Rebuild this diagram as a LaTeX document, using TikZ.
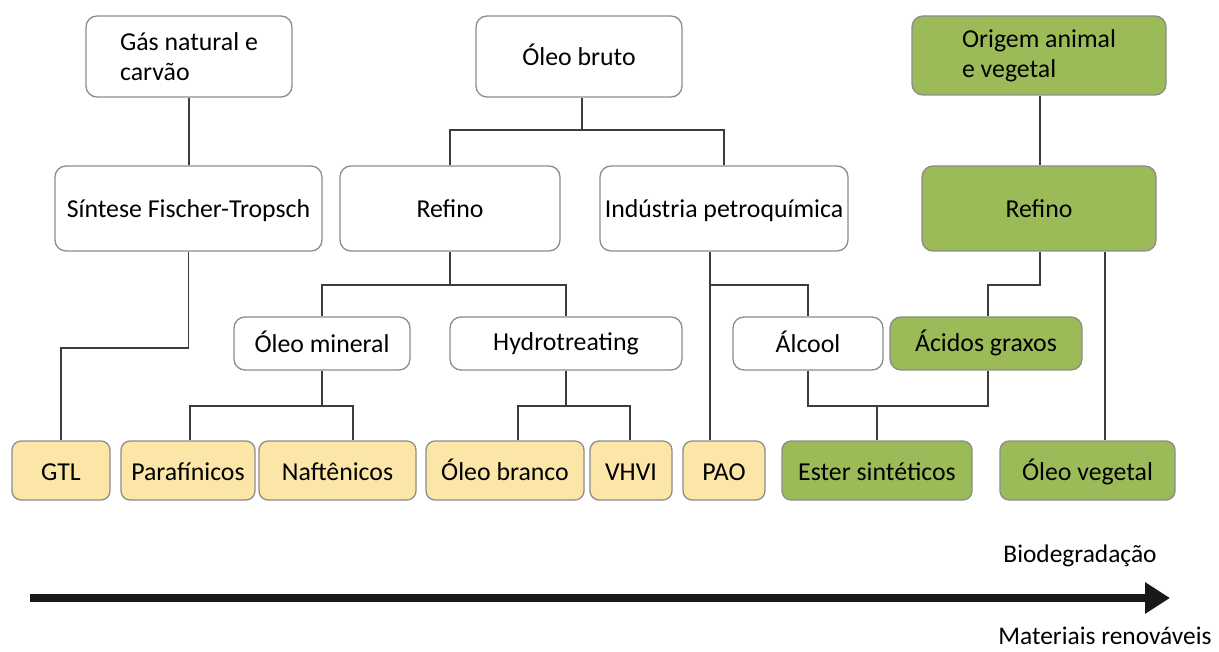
\documentclass[tikz,border=0pt]{standalone}
\usepackage{fontspec}
\setmainfont{Carlito}
\usetikzlibrary{arrows.meta}
\tikzset{
  box/.style={draw=boxgray, line width=1.3pt, rounded corners=11pt, fill=white, inner sep=0pt, align=center, font=\fontsize{25.8}{30}\selectfont},
  oneline/.style={text height=20pt, text depth=1pt},
  oil/.style={box, oneline, fill=oilyellow, rounded corners=9pt, minimum height=59pt},
  bio/.style={box, fill=biogreen},
  link/.style={draw=linkgray, line width=1.4pt},
  caption/.style={inner sep=0pt, font=\fontsize{25.4}{30}\selectfont}
}

\begin{document}
\begin{tikzpicture}[x=1pt,y=-1pt]
    \definecolor{boxgray}{RGB}{140, 140, 140}
    \definecolor{linkgray}{RGB}{60, 60, 60}
    \definecolor{oilyellow}{RGB}{251, 230, 168}
    \definecolor{biogreen}{RGB}{155, 187, 89}

    \useasboundingbox (0,0) rectangle (1219,652);

    \node[box, minimum width=206pt, minimum height=81pt, align=left] (gas) at (189,56.5) {Gás natural e\\carvão};
    \node[box, oneline, minimum width=206pt, minimum height=81pt] (bruto) at (579,56.5) {Óleo bruto};
    \node[bio, minimum width=254pt, minimum height=79pt, align=left] (origem) at (1039,55.5) {Origem animal\\e vegetal};

    \node[box, oneline, minimum width=267pt, minimum height=85pt] (ft) at (188.5,208.5) {Síntese Fischer-Tropsch};
    \node[box, oneline, minimum width=220pt, minimum height=85pt] (refino) at (450,208.5) {Refino};
    \node[box, oneline, minimum width=248pt, minimum height=85pt] (petro) at (724,208.5) {Indústria petroquímica};
    \node[bio, oneline, minimum width=234pt, minimum height=85pt] (grefino) at (1039,208.5) {Refino};

    \node[box, oneline, minimum width=176pt, minimum height=53pt] (mineral) at (322,343.5) {Óleo mineral};
    \node[box, oneline, text depth=5pt, minimum width=232pt, minimum height=53pt] (hydro) at (566,343.5) {Hydrotreating};
    \node[box, oneline, minimum width=150pt, minimum height=53pt] (alcool) at (808,343.5) {Álcool};
    \node[bio, oneline, text depth=4pt, minimum width=192pt, minimum height=53pt] (acidos) at (986,343.5) {Ácidos graxos};

    \node[oil, minimum width=98pt] (gtl) at (61,470.5) {GTL};
    \node[oil, minimum width=134pt] (paraf) at (188,470.5) {Parafínicos};
    \node[oil, minimum width=157pt] (naft) at (337.5,470.5) {Naftênicos};
    \node[oil, minimum width=158pt] (branco) at (505,470.5) {Óleo branco};
    \node[oil, minimum width=82pt] (vhvi) at (631,470.5) {VHVI};
    \node[oil, minimum width=82pt] (pao) at (724,470.5) {PAO};
    \node[bio, oneline, minimum width=190pt, minimum height=59pt, rounded corners=9pt] (ester) at (877,470.5) {Ester sintéticos};
    \node[bio, oneline, minimum width=175pt, minimum height=59pt, rounded corners=9pt] (vegetal) at (1087.5,470.5) {Óleo vegetal};

    \coordinate (bj) at (582,130);
    \coordinate (rj) at (450,285);
    \coordinate (mj) at (322,406);
    \coordinate (hj) at (566,406);
    \coordinate (pj) at (710,285);
    \coordinate (gj) at (1040,285);
    \coordinate (ej) at (877,406);

    \draw[link] (gas.south) -- (gas.south |- ft.north);
    \draw[link] (ft.south) -- (ft.south |- 0,348) -| (gtl.north);
    \draw[link] (bruto.south -| bj) -- (bj);
    \draw[link] (refino.north) |- (bj) -| (petro.north);
    \draw[link] (refino.south) -- (rj);
    \draw[link] (mineral.north) |- (rj) -| (hydro.north);
    \draw[link] (mineral.south) -- (mj);
    \draw[link] (paraf.north -| 190,0) |- (mj) -| (naft.north -| 353,0);
    \draw[link] (hydro.south) -- (hj);
    \draw[link] (branco.north -| 518,0) |- (hj) -| (vhvi.north -| 630,0);
    \draw[link] (petro.south -| pj) -- (pao.north -| pj);
    \draw[link] (pj) -| (alcool.north);
    \draw[link] (origem.south -| gj) -- (grefino.north -| gj);
    \draw[link] (grefino.south -| gj) -- (gj) -| (acidos.north -| 988,0);
    \draw[link] (grefino.south -| 1105,0) -- (vegetal.north -| 1105,0);
    \draw[link] (alcool.south) |- (ej) -| (acidos.south -| 988,0);
    \draw[link] (ej) -- (ester.north);

    \coordinate (ax0) at (30,598);
    \coordinate (ax1) at (1170,598);
    \draw[-{Triangle[length=25pt,width=30pt]}, line width=8pt, black!90] (ax0) -- (ax1);

    \node[caption] (biodeg) at (1080,556) {Biodegradação};
    \node[caption] (renov) at (1105,636) {Materiais renováveis};
  \end{tikzpicture}
\end{document}
